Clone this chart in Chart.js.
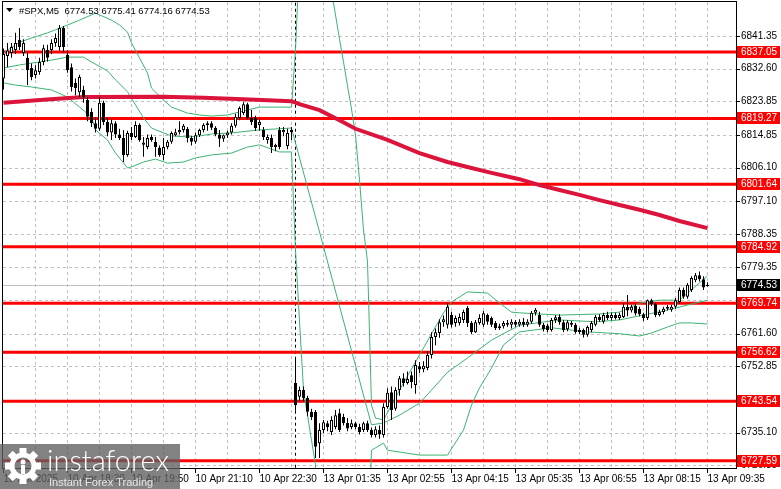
<!DOCTYPE html>
<html>
<head>
<meta charset="utf-8">
<script src="https://cdn.jsdelivr.net/npm/chart.js@4.4.1/dist/chart.umd.min.js"></script>
<style>
  html, body { margin: 0; padding: 0; background: #fff; }
  #wrap { width: 781px; height: 489px; }
</style>
</head>
<body>
<div id="wrap"><canvas id="chart" width="781" height="489"></canvas></div>
<script>
// time axis labels, one every 16 bars (M5 -> 80 min)
const timeLabels = ['10 Apr 2025', '10 Apr 18:30', '10 Apr 19:50', '10 Apr 21:10', '10 Apr 22:30',
  '13 Apr 01:35', '13 Apr 02:55', '13 Apr 04:15', '13 Apr 05:35', '13 Apr 06:55', '13 Apr 08:15', '13 Apr 09:35'];
const priceTicks = [6841.35, 6832.60, 6823.85, 6814.85, 6806.10, 6797.10, 6788.35, 6779.35, 6770.60,
  6761.60, 6752.85, 6743.85, 6735.10, 6726.35];
const hiddenTicks = [6770.60, 6743.85];
const levels = [6837.05, 6819.27, 6801.64, 6784.92, 6769.74, 6756.62, 6743.54, 6727.59];
const lastPrice = 6774.53;
const daySeparator = 73;

const opens = [
  6830.0, 6836.0, 6836.8, 6837.6, 6840.3, 6836.8, 6835.5, 6832.8, 6830.9, 6831.7,
  6834.4, 6837.6, 6837.6, 6839.5, 6838.4, 6843.5, 6836.3, 6833.0, 6828.8, 6826.3,
  6826.9, 6824.2, 6821.0, 6818.0, 6816.5, 6823.5, 6818.3, 6815.5, 6818.0, 6815.0,
  6814.0, 6809.5, 6815.4, 6814.3, 6817.5, 6812.2, 6811.6, 6814.3, 6813.0, 6811.4,
  6809.5, 6811.6, 6813.0, 6814.8, 6815.6, 6816.2, 6816.5, 6814.0, 6813.0, 6814.8,
  6816.2, 6817.5, 6818.0, 6816.8, 6815.0, 6813.8, 6814.8, 6815.5, 6817.3, 6819.4,
  6820.7, 6823.1, 6819.4, 6819.4, 6817.5, 6816.2, 6813.5, 6814.0, 6811.6, 6816.2,
  6815.6, 6811.9, 6816.2,
  6748.4, 6744.7, 6746.5, 6744.4, 6740.7, 6740.7, 6732.3,
  6735.8, 6737.6, 6735.3, 6736.6, 6740.3, 6739.3, 6737.7, 6736.6, 6737.6, 6736.6,
  6735.8, 6737.6, 6735.8, 6734.5, 6735.8, 6734.5, 6742.0, 6745.9, 6741.5, 6746.5,
  6749.7, 6748.4, 6750.5, 6747.9, 6752.9, 6752.1, 6752.4, 6755.9, 6760.7, 6761.8,
  6764.7, 6764.0, 6766.6, 6764.5, 6764.5, 6765.3, 6768.5, 6764.5, 6762.0, 6764.5,
  6764.0, 6766.6, 6765.8, 6764.5, 6763.1, 6763.6, 6764.5, 6764.0, 6764.8, 6764.0,
  6764.8, 6764.0, 6764.8, 6767.2, 6766.6, 6764.0, 6763.8, 6762.6, 6765.3, 6766.1,
  6764.7, 6762.8, 6764.5, 6764.0, 6762.1, 6762.6, 6761.3, 6762.6, 6764.0, 6766.1,
  6764.8, 6766.6, 6765.8, 6766.6, 6765.8, 6766.1, 6768.8, 6767.8, 6769.0, 6768.3,
  6766.8, 6765.8, 6770.6, 6769.6, 6766.6, 6767.4, 6768.3, 6768.0, 6768.8, 6770.1,
  6773.3, 6771.5, 6773.3, 6775.9, 6777.3, 6776.2, 6774.53];
const highs = [
  6838.0, 6839.5, 6839.5, 6842.2, 6843.5, 6840.5, 6837.0, 6834.0, 6833.5, 6835.5,
  6839.0, 6839.0, 6840.5, 6842.0, 6844.3, 6844.0, 6837.5, 6834.0, 6830.0, 6831.0,
  6828.0, 6825.0, 6822.0, 6819.5, 6825.0, 6824.0, 6819.5, 6819.0, 6818.5, 6816.5,
  6816.2, 6816.0, 6817.0, 6818.5, 6818.0, 6814.3, 6815.0, 6815.0, 6814.3, 6812.0,
  6814.0, 6813.5, 6815.8, 6816.5, 6818.5, 6817.8, 6817.0, 6814.5, 6815.5, 6816.5,
  6818.0, 6818.5, 6818.5, 6817.2, 6816.2, 6815.0, 6816.0, 6818.0, 6820.5, 6822.5,
  6823.7, 6823.5, 6821.5, 6820.0, 6819.0, 6817.0, 6815.0, 6815.0, 6812.5, 6817.0,
  6817.0, 6816.5, 6817.0,
  6755.4, 6747.5, 6747.5, 6745.0, 6741.5, 6741.2, 6737.6,
  6738.5, 6738.3, 6739.5, 6741.2, 6741.5, 6740.2, 6739.0, 6738.6, 6738.0, 6737.5,
  6738.0, 6738.3, 6736.5, 6736.8, 6737.0, 6743.0, 6747.0, 6747.5, 6747.3, 6750.3,
  6751.0, 6751.5, 6751.5, 6754.5, 6754.0, 6754.2, 6757.0, 6762.0, 6763.0, 6765.5,
  6766.5, 6769.8, 6767.5, 6766.5, 6767.0, 6768.0, 6769.0, 6765.0, 6765.3, 6766.8,
  6767.7, 6767.0, 6766.2, 6765.0, 6764.3, 6765.0, 6765.3, 6765.5, 6765.3, 6765.5,
  6765.8, 6765.5, 6767.7, 6768.5, 6767.5, 6764.5, 6764.3, 6765.8, 6766.6, 6766.8,
  6765.3, 6765.3, 6765.0, 6764.5, 6763.2, 6763.0, 6763.8, 6765.0, 6766.6, 6766.8,
  6767.2, 6767.5, 6767.3, 6767.2, 6767.2, 6769.8, 6772.0, 6769.4, 6769.5, 6768.8,
  6767.2, 6770.8, 6771.0, 6770.0, 6768.0, 6768.8, 6769.3, 6769.4, 6771.2, 6774.0,
  6774.0, 6775.2, 6777.0, 6777.9, 6778.3, 6777.0, 6775.41];
const lows = [
  6827.0, 6833.0, 6835.5, 6836.5, 6837.6, 6836.0, 6828.2, 6829.5, 6830.0, 6831.0,
  6833.5, 6834.5, 6836.5, 6838.5, 6837.5, 6837.0, 6831.5, 6826.5, 6825.5, 6825.0,
  6823.5, 6818.5, 6817.0, 6815.5, 6816.0, 6817.5, 6814.5, 6813.5, 6814.0, 6813.5,
  6807.6, 6809.0, 6813.5, 6814.0, 6813.0, 6809.0, 6811.0, 6813.0, 6809.0, 6809.0,
  6808.1, 6811.0, 6812.5, 6814.5, 6815.0, 6815.5, 6812.8, 6812.0, 6812.5, 6814.3,
  6815.5, 6816.0, 6816.2, 6814.5, 6811.6, 6813.0, 6814.0, 6815.0, 6816.8, 6818.8,
  6820.2, 6819.0, 6817.5, 6816.0, 6816.0, 6813.5, 6812.5, 6810.0, 6810.5, 6811.0,
  6814.5, 6811.0, 6813.5,
  6741.0, 6743.5, 6743.5, 6739.5, 6738.5, 6728.3, 6728.3,
  6735.0, 6735.5, 6734.5, 6736.0, 6735.3, 6737.0, 6735.5, 6736.0, 6736.0, 6734.6,
  6735.3, 6735.3, 6733.8, 6733.8, 6733.5, 6733.8, 6741.5, 6738.5, 6741.0, 6745.0,
  6747.5, 6748.0, 6747.0, 6745.5, 6751.0, 6751.3, 6751.8, 6755.0, 6758.5, 6760.5,
  6763.5, 6763.0, 6763.3, 6763.5, 6763.8, 6764.5, 6763.4, 6761.5, 6761.8, 6764.0,
  6763.5, 6764.0, 6763.4, 6762.6, 6762.6, 6763.0, 6763.5, 6763.0, 6763.5, 6763.5,
  6763.4, 6763.5, 6764.3, 6766.5, 6763.5, 6762.2, 6762.0, 6762.2, 6764.5, 6764.0,
  6762.0, 6762.3, 6763.4, 6761.6, 6761.5, 6760.6, 6760.8, 6762.0, 6763.6, 6764.8,
  6764.3, 6765.3, 6765.2, 6765.4, 6765.3, 6765.8, 6766.3, 6767.3, 6766.5, 6766.3,
  6765.0, 6765.3, 6769.0, 6766.0, 6766.2, 6766.8, 6767.8, 6767.5, 6768.3, 6769.6,
  6771.0, 6771.0, 6772.8, 6775.4, 6775.6, 6773.3, 6774.16];
const closes = [
  6836.5, 6837.5, 6838.4, 6839.5, 6838.4, 6839.5, 6832.2, 6830.4, 6832.2, 6834.4,
  6838.1, 6835.5, 6839.5, 6840.8, 6843.5, 6838.4, 6832.2, 6827.7, 6827.4, 6830.4,
  6825.0, 6819.7, 6818.0, 6816.5, 6823.5, 6818.3, 6815.5, 6818.0, 6815.0, 6814.0,
  6809.5, 6815.4, 6814.3, 6817.5, 6813.5, 6812.8, 6814.0, 6813.5, 6811.6, 6809.5,
  6811.6, 6813.0, 6815.4, 6815.6, 6816.2, 6817.3, 6814.0, 6813.0, 6814.8, 6816.2,
  6817.5, 6818.0, 6816.8, 6815.0, 6813.8, 6814.8, 6815.5, 6817.3, 6819.7, 6822.1,
  6823.1, 6819.4, 6818.3, 6816.7, 6818.3, 6814.3, 6814.3, 6811.6, 6812.2, 6811.6,
  6816.2, 6815.4, 6815.6,
  6742.5, 6746.5, 6744.4, 6740.7, 6739.3, 6731.3, 6735.8,
  6737.9, 6736.6, 6738.5, 6739.8, 6735.8, 6737.7, 6736.2, 6737.6, 6736.6, 6735.3,
  6737.6, 6735.8, 6734.5, 6736.0, 6734.6, 6742.0, 6745.8, 6741.2, 6746.5, 6749.7,
  6748.4, 6749.5, 6748.7, 6753.2, 6752.0, 6753.0, 6755.9, 6760.7, 6762.0, 6764.7,
  6765.5, 6768.8, 6764.0, 6765.8, 6766.1, 6767.4, 6764.5, 6762.0, 6764.7, 6765.8,
  6767.1, 6764.8, 6764.0, 6763.1, 6763.6, 6764.5, 6764.0, 6764.8, 6764.0, 6764.8,
  6764.0, 6764.8, 6767.2, 6768.0, 6764.0, 6762.8, 6762.6, 6765.3, 6766.0, 6764.7,
  6762.6, 6764.7, 6764.0, 6762.1, 6762.6, 6761.3, 6763.4, 6764.5, 6766.1, 6765.3,
  6766.6, 6765.8, 6766.6, 6765.8, 6766.6, 6768.8, 6767.8, 6768.8, 6767.0, 6766.8,
  6765.8, 6770.6, 6769.6, 6766.6, 6767.4, 6768.3, 6768.8, 6768.8, 6770.6, 6773.3,
  6771.5, 6774.7, 6776.5, 6777.3, 6776.2, 6774.0, 6774.53];

// moving average (bar index / value)
const maIdx = [0, 10, 20, 40, 50, 60, 72, 74, 79, 84, 88, 96, 104, 111, 117, 122, 129, 134, 139, 144, 149, 154, 159, 164, 169, 176];
const maVal = [6823.5, 6824.3, 6825.0, 6825.1, 6824.8, 6824.4, 6823.9, 6823.1, 6821.5, 6818.8, 6816.5, 6813.5, 6810.0, 6807.6,
  6806.0, 6804.7, 6803.0, 6801.4, 6800.1, 6798.8, 6797.4, 6796.1, 6794.8, 6793.4, 6791.8, 6789.9];

// bollinger bands (bar index / value)
const bbUpIdx = [0, 4, 7, 11, 13, 16, 19, 22, 23, 24, 27, 29, 31, 32, 34, 36, 37, 40, 42, 46,
  49, 52, 56, 59, 64, 72, 73, 74, 81, 82, 83, 84, 85, 86, 87, 88, 89, 90, 91, 92,
  93, 95, 99, 105, 110, 112, 116, 121, 124, 127, 129, 139, 149, 154, 159, 164, 169, 171, 174, 176];
const bbUpVal = [6836.8, 6839.7, 6840.8, 6842.2, 6843.0, 6844.3, 6845.6, 6847.0, 6847.5, 6847.0,
  6845.6, 6844.3, 6842.4, 6839.5, 6835.5, 6831.4, 6827.4, 6824.2, 6822.3, 6820.7,
  6820.2, 6819.9, 6820.2, 6821.0, 6822.3, 6822.3, 6837.6, 6862.0, 6860.0, 6853.4,
  6847.0, 6840.5, 6834.4, 6828.0, 6821.8, 6814.8, 6802.8, 6789.4, 6781.0, 6742.5,
  6739.0, 6738.5, 6746.5, 6757.8, 6767.2, 6770.1, 6772.8, 6772.5, 6769.8, 6767.4,
  6767.2, 6766.6, 6766.9, 6767.4, 6769.8, 6770.6, 6770.6, 6772.5, 6775.2, 6777.1];
const bbMidIdx = [0, 4, 12, 16, 20, 22, 26, 28, 31, 33, 35, 37, 40, 42, 46, 49, 52, 57, 64, 72,
  92, 95, 99, 104, 107, 111, 116, 122, 129, 139, 148, 154, 159, 165, 171, 176];
const bbMidVal = [6832.8, 6833.6, 6834.9, 6835.7, 6835.7, 6834.4, 6832.0, 6829.6, 6826.4, 6822.9,
  6819.4, 6816.7, 6815.4, 6814.6, 6814.3, 6814.6, 6815.1, 6815.4, 6816.2, 6816.7,
  6737.2, 6737.7, 6739.8, 6743.0, 6746.5, 6751.3, 6755.1, 6759.9, 6763.9, 6765.3,
  6764.8, 6765.3, 6766.4, 6767.7, 6769.3, 6770.6];
const bbLowIdx = [0, 3, 7, 12, 16, 19, 22, 23, 26, 28, 31, 32, 35, 38, 41, 45, 48, 52, 57, 59,
  61, 64, 69, 72, 73, 74, 75, 76, 77, 78, 79, 91, 92, 95, 96, 104, 111, 115, 117, 119,
  122, 125, 129, 137, 146, 154, 159, 162, 166, 169, 172, 176];
const bbLowVal = [6828.8, 6828.2, 6827.7, 6826.9, 6825.0, 6822.3, 6819.7, 6816.2, 6813.5, 6810.0,
  6806.0, 6806.3, 6807.6, 6808.4, 6807.3, 6807.6, 6808.7, 6809.5, 6810.0, 6810.8,
  6811.6, 6812.2, 6810.3, 6810.3, 6784.0, 6765.0, 6746.5, 6739.8, 6733.1, 6726.5,
  6700.0, 6700.0, 6730.4, 6732.3, 6730.4, 6729.1, 6729.1, 6735.8, 6742.5, 6747.1,
  6752.4, 6758.6, 6762.1, 6763.2, 6762.1, 6761.6, 6761.0, 6761.8, 6763.4, 6764.5,
  6764.5, 6764.2];

const FONT = '"Liberation Sans", Arial, sans-serif';
const pts = (idx, val) => idx.map((x, k) => ({ x: x, y: val[k] }));
const hline = v => [{ x: -2, y: v }, { x: 190, y: v }];

const decor = {
  id: 'decor',
  beforeDatasetsDraw(chart) {
    const { ctx, chartArea: a, scales: { x, y } } = chart;
    ctx.save();
    ctx.strokeStyle = '#c0c0c0';
    ctx.lineWidth = 1;
    ctx.setLineDash([3, 3]);
    priceTicks.forEach(v => {
      const py = Math.round(y.getPixelForValue(v)) + 0.5;
      ctx.beginPath(); ctx.moveTo(a.left, py); ctx.lineTo(a.right, py); ctx.stroke();
    });
    for (let k = 8; k <= 176; k += 8) {
      const px = Math.floor(x.getPixelForValue(k)) + 0.5;
      ctx.beginPath(); ctx.moveTo(px, a.top); ctx.lineTo(px, a.bottom); ctx.stroke();
    }
    ctx.restore();
  },
  afterDraw(chart) {
    const { ctx, chartArea: a, scales: { x, y } } = chart;
    ctx.save();
    // frame
    ctx.strokeStyle = '#000';
    ctx.lineWidth = 1;
    ctx.strokeRect(a.left - 0.5, a.top - 0.5, a.right - a.left + 1, a.bottom - a.top + 1);
    // tick marks
    ctx.beginPath();
    for (let k = 0; k <= 176; k += 16) {
      const px = Math.floor(x.getPixelForValue(k)) + 0.5;
      ctx.moveTo(px, a.bottom + 1); ctx.lineTo(px, a.bottom + 5);
    }
    priceTicks.forEach(v => {
      const py = Math.round(y.getPixelForValue(v)) + 0.5;
      ctx.moveTo(a.right + 1, py); ctx.lineTo(a.right + 4, py);
    });
    ctx.stroke();

    // header
    ctx.fillStyle = '#000';
    ctx.beginPath();
    ctx.moveTo(6, 8); ctx.lineTo(13, 8); ctx.lineTo(9.5, 12); ctx.closePath();
    ctx.fill();
    ctx.font = '9.5px ' + FONT;
    ctx.textBaseline = 'alphabetic';
    ctx.fillText('#SPX,M5  ' + [opens[176], highs[176], lows[176], closes[176]].map(v => v.toFixed(2)).join(' '), 19, 14);

    // level tags on the price axis
    ctx.font = '10px ' + FONT;
    ctx.textBaseline = 'middle';
    levels.forEach(v => {
      const py = Math.round(y.getPixelForValue(v));
      ctx.fillStyle = '#ff0000';
      ctx.fillRect(a.right + 1, py - 6, 43, 12);
      ctx.fillStyle = '#fff';
      ctx.fillText(v.toFixed(2), a.right + 5, py + 0.5);
    });
    const pl = Math.round(y.getPixelForValue(lastPrice));
    ctx.fillStyle = '#000';
    ctx.fillRect(a.right + 1, pl - 6, 43, 12);
    ctx.fillStyle = '#fff';
    ctx.fillText(lastPrice.toFixed(2), a.right + 5, pl + 0.5);

    // watermark
    ctx.fillStyle = 'rgba(95,95,95,0.78)';
    ctx.fillRect(0, 444, 180, 45);
    ctx.fillStyle = '#fff';
    ctx.strokeStyle = '#fff';
    const gx = 23, gy = 466;
    for (let k = 0; k < 8; k++) {
      ctx.save();
      ctx.translate(gx, gy); ctx.rotate(k * Math.PI / 4);
      ctx.fillRect(-3.5, -18, 7, 6);
      ctx.restore();
    }
    ctx.lineWidth = 5;
    ctx.beginPath(); ctx.arc(gx, gy, 11, 0, Math.PI * 2); ctx.stroke();
    ctx.beginPath(); ctx.arc(gx, gy - 4, 2.5, 0, Math.PI * 2); ctx.fill();
    ctx.fillRect(gx - 2, gy - 1, 4, 9);
    ctx.font = '300 29px Lato, ' + FONT;
    ctx.textBaseline = 'alphabetic';
    ctx.fillText('instaforex', 47, 471);
    ctx.font = '11px ' + FONT;
    ctx.fillStyle = '#e8e8e8';
    ctx.fillText('Instant Forex Trading', 49, 486);
    ctx.restore();
  }
};

new Chart(document.getElementById('chart'), {
  type: 'bar',
  data: {
    datasets: [
      {
        type: 'bar', label: 'body', order: 1, grouped: false,
        data: opens.map((o, i) => ({ x: i, y: Math.abs(o - closes[i]) < 0.2 ? [o - 0.15, o + 0.15] : [o, closes[i]] })),
        backgroundColor: opens.map((o, i) => closes[i] > o ? '#fff' : '#000'),
        borderColor: '#000', borderWidth: 1, borderSkipped: false, barThickness: 3, inflateAmount: 0
      },
      {
        type: 'bar', label: 'wick', order: 2, grouped: false,
        data: lows.map((l, i) => ({ x: i, y: [l, highs[i]] })),
        backgroundColor: '#000', borderWidth: 0, barThickness: 1, inflateAmount: 0
      },
      { type: 'line', label: 'MA', order: 3, data: pts(maIdx, maVal), borderColor: '#dc143c', borderWidth: 4, pointRadius: 0 },
      { type: 'line', label: 'BB up', order: 4, data: pts(bbUpIdx, bbUpVal), borderColor: '#3cb371', borderWidth: 1, pointRadius: 0 },
      { type: 'line', label: 'BB mid', order: 4, data: pts(bbMidIdx, bbMidVal), borderColor: '#3cb371', borderWidth: 1, pointRadius: 0 },
      { type: 'line', label: 'BB low', order: 4, data: pts(bbLowIdx, bbLowVal), borderColor: '#3cb371', borderWidth: 1, pointRadius: 0 },
      ...levels.map(v => ({ type: 'line', label: 'lvl', order: 5, data: hline(v), borderColor: '#ff0000', borderWidth: 3, pointRadius: 0 })),
      { type: 'line', label: 'sep', order: 6, data: [{ x: daySeparator, y: 6700 }, { x: daySeparator, y: 6900 }], borderColor: '#000', borderWidth: 1, borderDash: [3, 3], pointRadius: 0 },
      { type: 'line', label: 'last', order: 7, data: hline(lastPrice), borderColor: '#c0c0c0', borderWidth: 1, pointRadius: 0 }
    ]
  },
  options: {
    responsive: false,
    animation: false,
    devicePixelRatio: 1,
    events: [],
    layout: { padding: { left: 3, top: 2, right: 0, bottom: 0 } },
    plugins: { legend: { display: false }, tooltip: { enabled: false } },
    scales: {
      x: {
        type: 'linear', min: -0.125, max: 183.125, offset: false,
        afterBuildTicks: s => { s.ticks = Array.from({ length: 12 }, (_, k) => ({ value: k * 16 })); },
        afterFit: s => { s.height = 21; s.paddingLeft = 0; s.paddingRight = 0; },
        grid: { offset: false, drawOnChartArea: false, tickLength: 4, tickColor: 'rgba(0,0,0,0)' },
        border: { display: false },
        ticks: {
          autoSkip: false, maxRotation: 0, align: 'start', padding: 1, color: '#000',
          font: { family: FONT, size: 10 },
          callback: v => timeLabels[v / 16]
        }
      },
      y: {
        position: 'right', min: 6725.64, max: 6850.46,
        afterBuildTicks: s => { s.ticks = priceTicks.map(v => ({ value: v })); },
        afterFit: s => { s.width = 45; s.paddingTop = 0; s.paddingBottom = 0; },
        grid: { drawOnChartArea: false, tickLength: 3, tickColor: 'rgba(0,0,0,0)' },
        border: { display: false },
        ticks: {
          padding: 2, color: '#000', font: { family: FONT, size: 10 },
          callback: v => hiddenTicks.includes(v) ? '' : v.toFixed(2)
        }
      }
    }
  },
  plugins: [decor]
});
</script>
</body>
</html>
